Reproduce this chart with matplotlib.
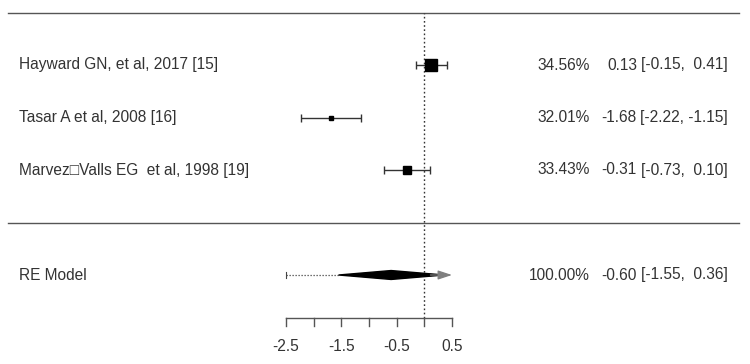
import matplotlib
matplotlib.use('Agg')
import matplotlib.pyplot as plt
import numpy as np

plt.rcParams['font.family'] = ['Liberation Sans', 'DejaVu Sans']

# datos del forest plot
studies = ['Hayward GN, et al, 2017 [15]',
           'Tasar A et al, 2008 [16]',
           'Marvez\u25a1Valls EG  et al, 1998 [19]']
est = np.array([0.13, -1.68, -0.31])
ci_lo = np.array([-0.15, -2.22, -0.73])
ci_hi = np.array([0.41, -1.15, 0.10])
weights = np.array([34.56, 32.01, 33.43])

re_label = 'RE Model'
re_est, re_lo, re_hi = -0.60, -1.55, 0.36
re_weight = 100.00
pi_lo, pi_hi = -2.5, 0.5   # intervalo de prediccion (recortado a los limites del eje)

tick_vals = [-2.5, -2.0, -1.5, -1.0, -0.5, 0.0, 0.5]
tick_labels = ['-2.5', '', '-1.5', '', '-0.5', '', '0.5']

W, H = 750, 364
txt_col = '#333333'
line_col = '#555555'
fs = 11.2

fig = plt.figure(figsize=(W / 100, H / 100), dpi=100)
ax = fig.add_axes([0, 0, 1, 1])
ax.set_xlim(-424.3 / 55.33, (W - 424.3) / 55.33)
ax.set_ylim(1 - 194 / 52.5, 1 + 170 / 52.5)
ax.axis('off')

k = len(studies)
rows = np.arange(k, 0, -1)
top = k + 1
axis_y = 1 - 148 / 52.5

# lineas horizontales (fraccion del eje en x)
ax.axhline(top, xmin=8 / W, xmax=739 / W, color=line_col, lw=1)
ax.axhline(0, xmin=8 / W, xmax=739 / W, color=line_col, lw=1)

# linea vertical de referencia
ax.plot([0, 0], [axis_y, top], color='#333333', lw=1, ls=(0, (1.2, 1.8)))

# tamaño de los puntos segun el peso (como metafor)
psize = 0.5 + (weights - weights.min()) / (weights.max() - weights.min())
for i in range(k):
    ax.errorbar(est[i], rows[i], xerr=[[est[i] - ci_lo[i]], [ci_hi[i] - est[i]]],
                fmt='s', color='black', ecolor='#333333', elinewidth=1,
                capsize=2.6, capthick=1, markersize=8 * psize[i] * 0.72, zorder=3)

# intervalo de prediccion
ax.plot([pi_lo, re_lo], [-1, -1], color='#444444', lw=0.9, ls=(0, (1.0, 1.4)))
ax.plot([pi_lo, pi_lo], [-1 - 0.05, -1 + 0.05], color='#444444', lw=0.8)

# diamante del modelo RE
h = 0.085
ax.fill([re_lo, re_est, re_hi, re_est], [-1, -1 + h, -1, -1 - h], color='black', zorder=3)
ax.annotate('', xy=(pi_hi, -1), xytext=(re_hi - 0.25, -1),
            arrowprops=dict(arrowstyle='-|>,head_length=0.85,head_width=0.28',
                            color='#7f7f7f', lw=0.9, shrinkA=0, shrinkB=0), zorder=4)

# eje x
ax.plot([tick_vals[0], tick_vals[-1]], [axis_y, axis_y], color=line_col, lw=1)
for tv, tl in zip(tick_vals, tick_labels):
    ax.plot([tv, tv], [axis_y, axis_y - 0.155], color=line_col, lw=1)
    if tl:
        ax.text(tv, 1 - 176.5 / 52.5, tl, ha='center', va='center', fontsize=fs, color=txt_col)

# textos
tr = ax.get_yaxis_transform()
def row_text(y, label, w, e, lo, hi):
    ax.text(19 / W, y, label, transform=tr, ha='left', va='center', fontsize=fs, color=txt_col)
    ax.text(590 / W, y, f'{w:.2f}%', transform=tr, ha='right', va='center', fontsize=fs, color=txt_col)
    ax.text(637 / W, y, f'{e:.2f}', transform=tr, ha='right', va='center', fontsize=fs, color=txt_col)
    ax.text(728 / W, y, f'[{lo:.2f}, {hi:5.2f}]', transform=tr, ha='right', va='center',
            fontsize=fs, color=txt_col)

for i in range(k):
    row_text(rows[i], studies[i], weights[i], est[i], ci_lo[i], ci_hi[i])
row_text(-1, re_label, re_weight, re_est, re_lo, re_hi)

fig.savefig('out.png', dpi=100, facecolor='white')
